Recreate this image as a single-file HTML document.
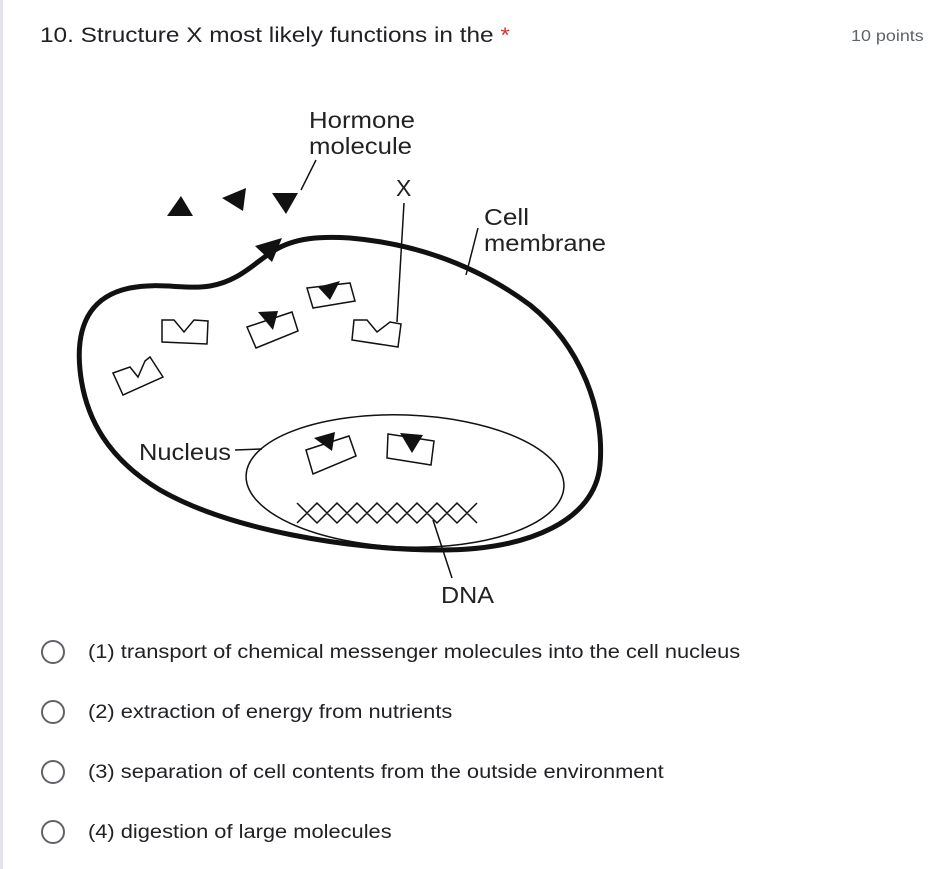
<!DOCTYPE html>
<html><head><meta charset="utf-8"><style>
html,body{margin:0;padding:0;background:#fff;}
body{width:941px;height:869px;position:relative;overflow:hidden;font-family:"Liberation Sans",sans-serif;}
.lb{position:absolute;left:0;top:0;width:3px;height:869px;background:#e4e2ee;}
.t{position:absolute;white-space:nowrap;transform-origin:0 0;}
.q{left:40px;top:24px;font-size:21px;color:#202124;transform:scaleX(1.16);}
.pts{left:851px;top:28px;font-size:16px;color:#5f6368;transform:scaleX(1.12);}
.c{position:absolute;left:41px;width:24px;height:24px;border:2px solid #5f6368;border-radius:50%;box-sizing:border-box;}
.o{left:88px;font-size:19px;color:#202124;transform:scaleX(1.15);}
</style></head><body>
<div class="lb"></div>
<div class="t q">10. Structure X most likely functions in the <span style="color:#d93025">*</span></div>
<div class="t pts">10 points</div>
<svg style="position:absolute;left:0;top:0" width="941" height="869">
<g font-family="Liberation Sans, sans-serif" font-size="23" fill="#222" lengthAdjust="spacingAndGlyphs">
<text x="309" y="128" textLength="106" lengthAdjust="spacingAndGlyphs">Hormone</text>
<text x="309" y="154" textLength="103" lengthAdjust="spacingAndGlyphs">molecule</text>
<text x="396" y="196">X</text>
<text x="484" y="225" textLength="45" lengthAdjust="spacingAndGlyphs">Cell</text>
<text x="484" y="251" textLength="122" lengthAdjust="spacingAndGlyphs">membrane</text>
<text x="139" y="460" textLength="92" lengthAdjust="spacingAndGlyphs">Nucleus</text>
<text x="441" y="603" textLength="53" lengthAdjust="spacingAndGlyphs">DNA</text>
</g>
<g stroke="#111" fill="none">
<path d="M80,370 C75,320 95,295 130,288 C160,282 185,290 210,286 C240,281 255,262 275,250 C295,238 320,236 350,238 C420,244 480,268 530,305 C580,345 605,410 600,465 C595,520 530,550 440,550 C350,550 230,530 160,490 C110,460 85,420 80,370 Z" stroke-width="5"/>
<ellipse cx="405" cy="481" rx="159" ry="66" stroke-width="1.5" transform="rotate(2 405 481)"/>
<line x1="301" y1="190" x2="316" y2="160" stroke-width="1.5"/>
<line x1="404" y1="203" x2="397" y2="322" stroke-width="1.5"/>
<line x1="466" y1="275" x2="478" y2="228" stroke-width="1.5"/>
<line x1="235" y1="450" x2="262" y2="449" stroke-width="1.5"/>
<line x1="433" y1="520" x2="452" y2="578" stroke-width="1.5"/>
<path d="M297,503 L307,513 L317,503 L327,513 L337,503 L347,513 L357,503 L367,513 L377,503 L387,513 L397,503 L407,513 L417,503 L427,513 L437,503 L447,513 L457,503 L467,513 L477,503 M297,523 L307,513 L317,523 L327,513 L337,523 L347,513 L357,523 L367,513 L377,523 L387,513 L397,523 L407,513 L417,523 L427,513 L437,523 L447,513 L457,523 L467,513 L477,523" stroke-width="1.5"/>
<g stroke-width="1.5" fill="#fff">
<path d="M162,320 L174,320 L184,332 L194,320 L208,321 L207,344 L162,342 Z"/>
<path d="M113,373 L130,367 L138,377 L145,361 L150,357 L163,377 L123,395 Z"/>
<path d="M247,327 L292,312 L298,331 L256,348 Z"/>
<path d="M307,288 L350,283 L355,301 L313,308 Z"/>
<path d="M354,320 L367,320 L377,332 L390,322 L401,324 L398,347 L352,340 Z"/>
<path d="M306,450 L349,436 L356,456 L313,474 Z"/>
<path d="M388,434 L434,441 L431,465 L387,458 Z"/>
</g>
</g>
<g fill="#111">
<polygon points="167,216 181,196 193,216"/>
<polygon points="222,198 246,188 243,211"/>
<polygon points="272,193 298,193 286,214"/>
<polygon points="255,246 282,238 272,262"/>
<polygon points="258,312 278,311 273,330"/>
<polygon points="318,287 340,281 330,300"/>
<polygon points="314,438 335,432 332,451"/>
<polygon points="400,433 423,435 412,453"/>
</g>
</svg>
<div class="c" style="top:640px"></div><div class="t o" style="top:642px">(1) transport of chemical messenger molecules into the cell nucleus</div>
<div class="c" style="top:700px"></div><div class="t o" style="top:702px">(2) extraction of energy from nutrients</div>
<div class="c" style="top:760px"></div><div class="t o" style="top:762px">(3) separation of cell contents from the outside environment</div>
<div class="c" style="top:820px"></div><div class="t o" style="top:822px">(4) digestion of large molecules</div>
</body></html>
